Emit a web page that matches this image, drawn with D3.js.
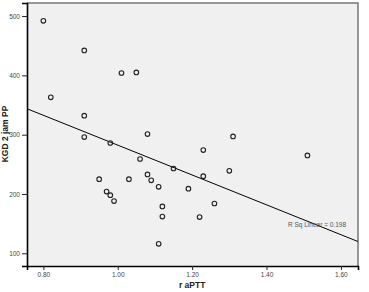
<!DOCTYPE html>
<html>
<head>
<meta charset="utf-8">
<script src="https://cdn.jsdelivr.net/npm/d3@7"></script>
<style>
  body { margin: 0; background: white; }
  svg { display: block; font-family: "Liberation Sans", Arial, sans-serif; }
</style>
</head>
<body>
<div id="chart"></div>
<script>
// r aPTT vs KGD 2 jam PP
const raptt = [0.80, 0.91, 1.01, 0.82, 0.91, 0.91, 0.98, 1.05, 1.08, 1.31,
    1.23, 1.06, 1.15, 1.03, 1.08, 1.09, 1.23, 1.30, 1.11, 1.19,
    1.26, 1.12, 1.12, 1.22, 1.11, 0.95, 0.97, 0.98, 0.99, 1.51]
const kgd = [492, 442, 404, 363, 332, 296, 286, 405, 301, 297,
    274, 259, 243, 225, 233, 223, 230, 239, 212, 209,
    184, 179, 162, 161, 116, 225, 204, 198, 188, 265]
const xTicks = [0.80, 1.00, 1.20, 1.40, 1.60]
const yTicks = [100, 200, 300, 400, 500]
const rSqText = "R Sq Linear = 0.198"

const W = 369, H = 292
const m = {left: 27, right: 11, top: 3, bottom: 26}

const svg = d3.select("#chart").append("svg")
    .attr("width", W)
    .attr("height", H)

const x = d3.scaleLinear().domain([0.756, 1.646]).range([m.left, W - m.right])
const y = d3.scaleLinear().domain([78.6, 522]).range([H - m.bottom, m.top])

// plot background
svg.append("rect")
    .attr("x", m.left).attr("y", m.top)
    .attr("width", W - m.left - m.right)
    .attr("height", H - m.top - m.bottom)
    .attr("fill", "#f0f0f0")
    .attr("stroke", "none")

// top and right frame
svg.append("path")
    .attr("d", `M${m.left},${m.top}H${W - m.right}V${H - m.bottom}`)
    .attr("fill", "none")
    .attr("stroke", "#777")
    .attr("stroke-width", 1.5)

const xAxis = svg.append("g")
    .attr("transform", `translate(0,${H - m.bottom})`)
    .call(d3.axisBottom(x).tickValues(xTicks).tickFormat(d3.format(".2f")).tickSize(4).tickPadding(2))
const yAxis = svg.append("g")
    .attr("transform", `translate(${m.left},0)`)
    .call(d3.axisLeft(y).tickValues(yTicks).tickSize(5).tickPadding(2))

for (const ax of [xAxis, yAxis]) {
    ax.select(".domain").attr("stroke", "#000").attr("stroke-width", 1.6)
    ax.selectAll(".tick line").attr("stroke", "#222")
    ax.selectAll("text").attr("font-size", 6.5).attr("fill", "#444")
        .attr("font-family", "Liberation Sans, Arial, sans-serif")
}

// least squares fit line
const mx = d3.mean(raptt), my = d3.mean(kgd)
let sxy = 0, sxx = 0
for (let i = 0; i < raptt.length; i++) {
    sxy += (raptt[i] - mx) * (kgd[i] - my)
    sxx += (raptt[i] - mx) ** 2
}
const slope = sxy / sxx
const icpt = my - slope * mx
const xd = x.domain()

svg.append("line")
    .attr("x1", x(xd[0])).attr("y1", y(icpt + slope * xd[0]))
    .attr("x2", x(xd[1])).attr("y2", y(icpt + slope * xd[1]))
    .attr("stroke", "#000")
    .attr("stroke-width", 1)

svg.append("text")
    .attr("x", 288).attr("y", 227)
    .attr("font-size", 6.5)
    .attr("fill", "#555")
    .text(rSqText)

svg.selectAll(".pt")
    .data(raptt.map((d, i) => [d, kgd[i]]))
    .join("circle")
    .attr("class", "pt")
    .attr("cx", d => x(d[0]))
    .attr("cy", d => y(d[1]))
    .attr("r", 2.3)
    .attr("fill", "none")
    .attr("stroke", "#222")
    .attr("stroke-width", 1.1)

svg.append("text")
    .attr("x", x(1.2)).attr("y", 288)
    .attr("text-anchor", "middle")
    .attr("font-size", 8.5)
    .attr("font-weight", "bold")
    .attr("fill", "#222")
    .text("r aPTT")

svg.append("text")
    .attr("transform", `translate(7.5,${134}) rotate(-90)`)
    .attr("text-anchor", "middle")
    .attr("font-size", 8.5)
    .attr("font-weight", "bold")
    .attr("fill", "#222")
    .text("KGD 2 jam PP")
</script>
</body>
</html>
